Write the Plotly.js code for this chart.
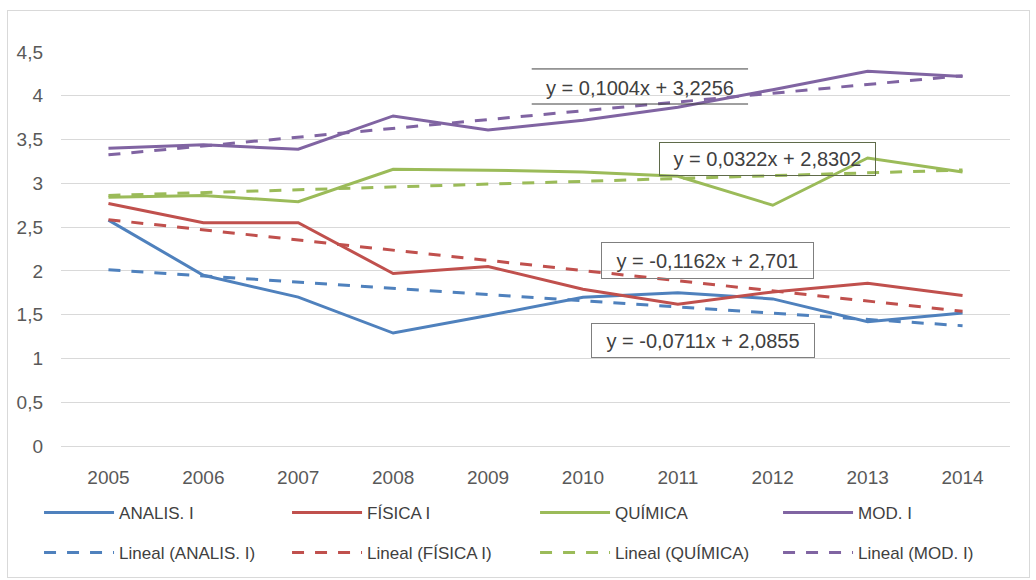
<!DOCTYPE html>
<html>
<head>
<meta charset="utf-8">
<script src="https://cdn.plot.ly/plotly-3.0.1.min.js"></script>
<style>
  html, body { margin: 0; padding: 0; background: #ffffff; width: 1036px; height: 580px; overflow: hidden; }
  #chart { position: absolute; left: 7px; top: 10px; width: 1021px; height: 566px; border: 1px solid #d9d9d9; }
</style>
</head>
<body>
<div id="chart"></div>
<script>
// ---- data ----
const years = ['2005','2006','2007','2008','2009','2010','2011','2012','2013','2014'];
const analis  = [2.58, 1.95, 1.70, 1.29, 1.49, 1.70, 1.75, 1.68, 1.42, 1.52];
const fisica  = [2.77, 2.55, 2.55, 1.97, 2.05, 1.79, 1.62, 1.76, 1.86, 1.72];
const quimica = [2.84, 2.86, 2.79, 3.16, 3.15, 3.13, 3.08, 2.75, 3.29, 3.13];
const mod     = [3.40, 3.44, 3.39, 3.77, 3.61, 3.72, 3.87, 4.07, 4.28, 4.22];
// trendline end values (first year, last year), as drawn
const trendYears   = ['2005', '2014'];
const trendAnalis  = [2.014, 1.374];
const trendFisica  = [2.585, 1.539];
const trendQuimica = [2.862, 3.152];
const trendMod     = [3.326, 4.230];
const seriesNames = ['ANALIS. I', 'FÍSICA I', 'QUÍMICA', 'MOD. I'];
const trendNames  = ['Lineal (ANALIS. I)', 'Lineal (FÍSICA I)', 'Lineal (QUÍMICA)', 'Lineal (MOD. I)'];
const equations   = ['y = 0,1004x + 3,2256', 'y = 0,0322x + 2,8302', 'y = -0,1162x + 2,701', 'y = -0,0711x + 2,0855'];
const yTickVals   = [0, 0.5, 1, 1.5, 2, 2.5, 3, 3.5, 4, 4.5];
const yTickText   = ['0', '0,5', '1', '1,5', '2', '2,5', '3', '3,5', '4', '4,5'];

const colors = ['#4F81BD', '#C0504D', '#9BBB59', '#8064A2'];
const seriesVals = [analis, fisica, quimica, mod];
const trendVals = [trendAnalis, trendFisica, trendQuimica, trendMod];

const FAM = 'Liberation Sans, Arial, sans-serif';
const legendCols = [0.0304, 0.2733, 0.5162, 0.7542];
const legendRows = [0.1131, 0.0424];

const traces = [];
seriesVals.forEach((v, i) => {
  traces.push({
    type: 'scatter', mode: 'lines', x: years, y: v, name: seriesNames[i],
    line: { color: colors[i], width: 3 }, legend: i === 0 ? 'legend' : 'legend' + (i + 1), hoverinfo: 'skip'
  });
});
trendVals.forEach((v, i) => {
  traces.push({
    type: 'scatter', mode: 'lines', x: trendYears, y: v, name: trendNames[i],
    line: { color: colors[i], width: 3, dash: '12px,11px' }, legend: 'legend' + (i + 5), hoverinfo: 'skip'
  });
});

const tickFont = { family: FAM, size: 19, color: '#595959' };
const annFont = { family: FAM, size: 20, color: '#404040' };

const layout = {
  width: 1021, height: 566,
  margin: { l: 53, r: 19, t: 41, b: 131 },
  paper_bgcolor: '#ffffff', plot_bgcolor: '#ffffff',
  font: { family: FAM, size: 17, color: '#404040' },
  showlegend: true,
  xaxis: {
    type: 'category', categoryorder: 'array', categoryarray: years, range: [-0.5, 9.5],
    showgrid: false, showline: false, zeroline: false, ticks: '',
    ticklabelstandoff: 18, tickfont: tickFont, fixedrange: true
  },
  yaxis: {
    range: [0, 4.5], tickvals: yTickVals, ticktext: yTickText,
    showgrid: true, gridcolor: '#d9d9d9', gridwidth: 1,
    zeroline: true, zerolinecolor: '#d9d9d9', zerolinewidth: 1,
    showline: false, ticks: '', ticklabelstandoff: 17, tickfont: tickFont, fixedrange: true
  },
  annotations: [
    { xref: 'paper', yref: 'paper', x: 0.610, y: 0.911, xanchor: 'center', yanchor: 'middle',
      text: equations[0], showarrow: false, font: annFont, width: 212, height: 31 },
    { xref: 'paper', yref: 'paper', x: 0.744, y: 0.728, xanchor: 'center', yanchor: 'middle',
      text: equations[1], showarrow: false, font: annFont, width: 213, height: 30,
      bordercolor: '#5f6b4a', borderwidth: 1 },
    { xref: 'paper', yref: 'paper', x: 0.681, y: 0.472, xanchor: 'center', yanchor: 'middle',
      text: equations[2], showarrow: false, font: annFont, width: 209, height: 33,
      bordercolor: '#7f7f7f', borderwidth: 1 },
    { xref: 'paper', yref: 'paper', x: 0.677, y: 0.269, xanchor: 'center', yanchor: 'middle',
      text: equations[3], showarrow: false, font: annFont, width: 220, height: 31,
      bordercolor: '#7f7f7f', borderwidth: 1 }
  ],
  shapes: [
    { type: 'line', xref: 'paper', yref: 'paper', x0: 0.496, x1: 0.724, y0: 0.957, y1: 0.957,
      line: { color: '#404040', width: 1 } },
    { type: 'line', xref: 'paper', yref: 'paper', x0: 0.496, x1: 0.724, y0: 0.868, y1: 0.868,
      line: { color: '#404040', width: 1 } }
  ]
};

for (let k = 0; k < 8; k++) {
  const key = k === 0 ? 'legend' : 'legend' + (k + 1);
  layout[key] = {
    orientation: 'h', xref: 'container', yref: 'container',
    x: legendCols[k % 4], y: legendRows[Math.floor(k / 4)], xanchor: 'left', yanchor: 'middle',
    itemwidth: 70,
    font: { family: FAM, size: 17, color: '#404040' },
    bgcolor: 'rgba(0,0,0,0)', borderwidth: 0
  };
}

Plotly.newPlot('chart', traces, layout, { displayModeBar: false, staticPlot: true });
</script>
</body>
</html>
